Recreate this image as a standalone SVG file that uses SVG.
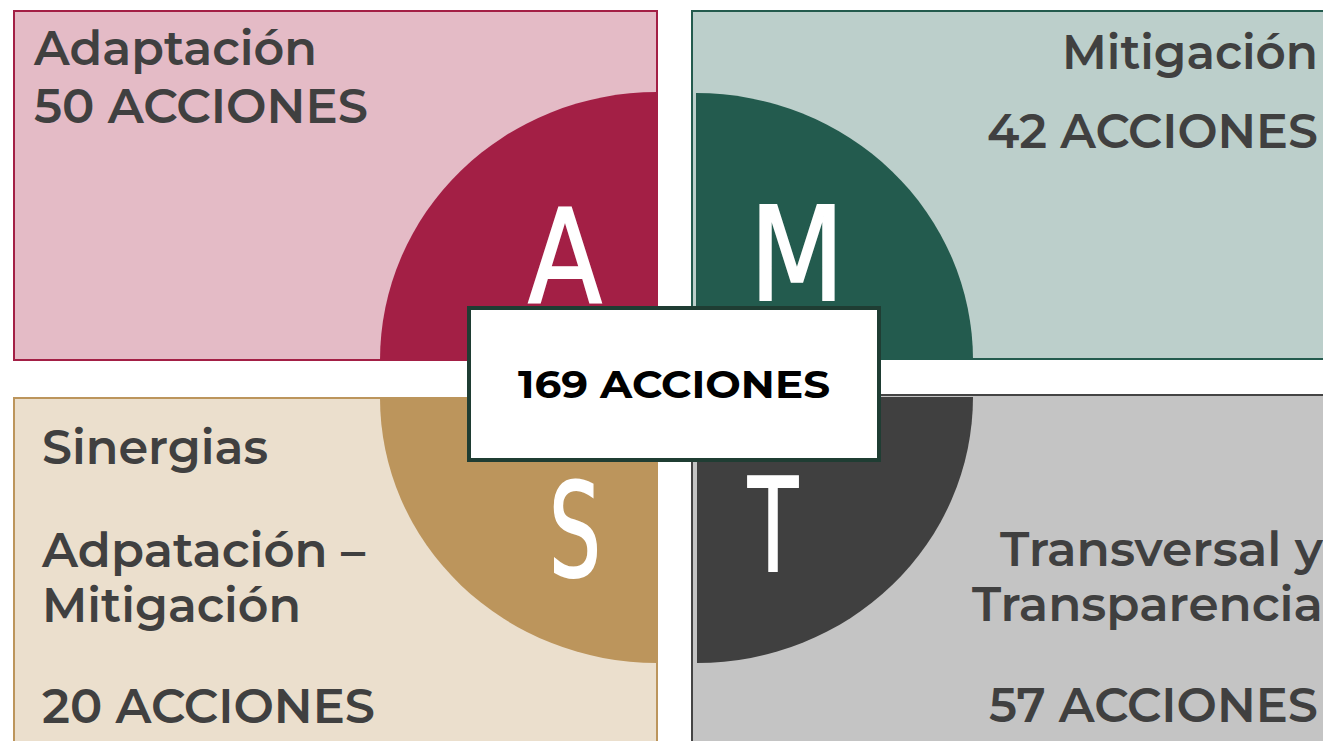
<svg xmlns="http://www.w3.org/2000/svg" width="1323" height="741" viewBox="0 0 1323 741">
<style>
.lbl{font-family:Montserrat,"Open Sans","Noto Sans",sans-serif;font-weight:600;fill:#404040;font-size:47px}
.big{font-family:"DejaVu Sans","Liberation Sans",sans-serif;fill:#ffffff;stroke:#ffffff;stroke-width:2;font-size:130px}
.ctr{font-family:Montserrat,"Open Sans","Noto Sans",sans-serif;font-weight:700;fill:#000;font-size:38px}
</style>
<rect width="1323" height="741" fill="#ffffff"/>
<g id="adaptacion">
<rect x="14" y="11" width="643" height="349" fill="#e4bbc6" stroke="#a31f45" stroke-width="2"/>
<path d="M657,360 L380,360 A277,268 0 0 1 657,92 Z" fill="#a31f45"/>
<text class="big" x="565" y="302" text-anchor="middle" textLength="74" lengthAdjust="spacingAndGlyphs">A</text>
<text class="lbl" x="34" y="65" textLength="283" lengthAdjust="spacingAndGlyphs">Adaptación</text>
<text class="lbl" x="34" y="123" textLength="334" lengthAdjust="spacingAndGlyphs">50 ACCIONES</text>
</g>
<g id="mitigacion">
<rect x="692" y="11" width="640" height="348" fill="#bccfcb" stroke="#235b4e" stroke-width="2"/>
<path d="M696,360 L696,93 A277,267 0 0 1 973,360 Z" fill="#235b4e"/>
<text class="big" x="797" y="300" text-anchor="middle" textLength="95" lengthAdjust="spacingAndGlyphs">M</text>
<text class="lbl" x="1318" y="69" text-anchor="end" textLength="256" lengthAdjust="spacingAndGlyphs">Mitigación</text>
<text class="lbl" x="1318" y="148" text-anchor="end" textLength="331" lengthAdjust="spacingAndGlyphs">42 ACCIONES</text>
</g>
<g id="sinergias">
<rect x="14" y="398" width="643" height="350" fill="#ebdfcd" stroke="#bc955c" stroke-width="2"/>
<path d="M657,398 L380,398 A277,265 0 0 0 657,663 Z" fill="#bc955c"/>
<text class="big" x="575" y="576" text-anchor="middle" textLength="52" lengthAdjust="spacingAndGlyphs">S</text>
<text class="lbl" x="42" y="464" textLength="226" lengthAdjust="spacingAndGlyphs">Sinergias</text>
<text class="lbl" x="42" y="567" textLength="323" lengthAdjust="spacingAndGlyphs">Adpatación –</text>
<text class="lbl" x="42" y="622" textLength="259" lengthAdjust="spacingAndGlyphs">Mitigación</text>
<text class="lbl" x="42" y="723" textLength="333" lengthAdjust="spacingAndGlyphs">20 ACCIONES</text>
</g>
<g id="transversal">
<rect x="692" y="395" width="640" height="353" fill="#c4c4c4" stroke="#444444" stroke-width="2"/>
<path d="M697,397 L973,397 A276,266 0 0 1 697,663 Z" fill="#404040"/>
<text class="big" x="773" y="571" text-anchor="middle" textLength="50" lengthAdjust="spacingAndGlyphs">T</text>
<text class="lbl" x="1323" y="566" text-anchor="end" textLength="323" lengthAdjust="spacingAndGlyphs">Transversal y</text>
<text class="lbl" x="1323" y="621" text-anchor="end" textLength="351" lengthAdjust="spacingAndGlyphs">Transparencia</text>
<text class="lbl" x="1318" y="722" text-anchor="end" textLength="329" lengthAdjust="spacingAndGlyphs">57 ACCIONES</text>
</g>
<g id="total">
<rect x="469" y="308" width="410" height="152" fill="#ffffff" stroke="#1f3d33" stroke-width="4"/>
<text class="ctr" x="674" y="398" text-anchor="middle" textLength="312" lengthAdjust="spacingAndGlyphs">169 ACCIONES</text>
</g>
<g id="connectors"/>
</svg>
